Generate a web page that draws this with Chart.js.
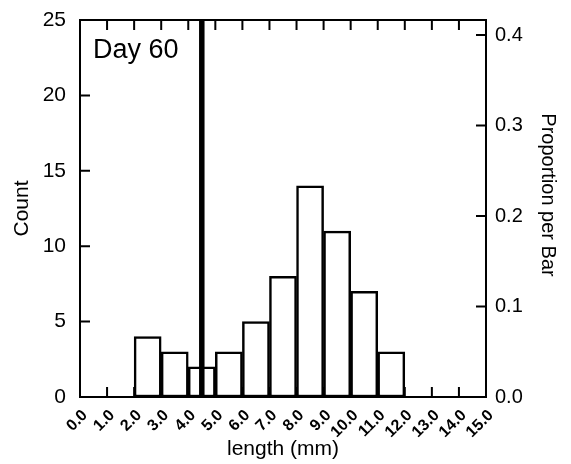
<!DOCTYPE html>
<html>
<head>
<meta charset="utf-8">
<script src="https://cdn.jsdelivr.net/npm/chart.js@4/dist/chart.umd.min.js"></script>
<style>
  html, body { margin: 0; padding: 0; background: #fff; }
  #wrap { width: 571px; height: 464px; }
</style>
</head>
<body>
<div id="wrap"><canvas id="c" width="571" height="464"></canvas></div>
<script>
// Histogram of lengths on day 60, 1 mm bins
const binStarts = [2, 3, 4, 5, 6, 7, 8, 9, 10, 11];
const counts    = [4, 3, 2, 3, 5, 8, 14, 11, 7, 3];
const markerLength = 4.5;           // vertical reference line (mm)
const panelLabel = 'Day 60';
const rightTitle = 'Proportion per Bar';
const countTicks = [0, 5, 10, 15, 20, 25];
const proportionTicks = [0.0, 0.1, 0.2, 0.3, 0.4];

const total = counts.reduce((s, v) => s + v, 0);
const countMax = 25;

const barData = binStarts.map((b, i) => ({ x: b + 0.5, y: counts[i] }));

const FONT = '"Liberation Sans", Arial, Helvetica, sans-serif';
Chart.defaults.font.family = FONT;
Chart.defaults.color = '#000';

// Frame around the plot with ticks pointing inward, plus the panel label
// and the right-hand axis title
const framePlugin = {
  id: 'frame',
  afterDatasetsDraw(chart) {
    const { ctx, chartArea: a, scales } = chart;
    const { x, y, y2 } = scales;
    const tl = 10;
    ctx.save();
    ctx.strokeStyle = '#000';
    ctx.lineWidth = 2;
    ctx.strokeRect(a.left, a.top, a.right - a.left, a.bottom - a.top);
    ctx.beginPath();
    for (let v = x.min; v <= x.max; v += 1) {
      const px = x.getPixelForValue(v);
      ctx.moveTo(px, a.bottom); ctx.lineTo(px, a.bottom - tl);
      ctx.moveTo(px, a.top);    ctx.lineTo(px, a.top + tl);
    }
    countTicks.forEach(v => {
      const py = y.getPixelForValue(v);
      ctx.moveTo(a.left, py); ctx.lineTo(a.left + tl, py);
    });
    proportionTicks.forEach(v => {
      const py = y2.getPixelForValue(v);
      ctx.moveTo(a.right, py); ctx.lineTo(a.right - tl, py);
    });
    ctx.stroke();

    ctx.fillStyle = '#000';
    ctx.font = '27px ' + FONT;
    ctx.textAlign = 'left';
    ctx.textBaseline = 'alphabetic';
    ctx.fillText(panelLabel, a.left + 13, a.top + 38);

    ctx.translate(a.right + 62, a.top + 175);
    ctx.rotate(Math.PI / 2);
    ctx.font = '20px ' + FONT;
    ctx.textAlign = 'center';
    ctx.textBaseline = 'middle';
    ctx.fillText(rightTitle, 0, 0);
    ctx.restore();
  }
};

new Chart(document.getElementById('c'), {
  type: 'bar',
  data: {
    datasets: [
      {
        type: 'bar',
        data: barData,
        backgroundColor: '#fff',
        borderColor: '#000',
        borderWidth: 2.5,
        borderSkipped: false,
        barPercentage: 1,
        categoryPercentage: 1,
        yAxisID: 'y',
        order: 2
      },
      {
        type: 'line',
        data: [{ x: markerLength, y: 0 }, { x: markerLength, y: countMax }],
        borderColor: '#000',
        borderWidth: 5.5,
        pointRadius: 0,
        yAxisID: 'y',
        order: 1
      }
    ]
  },
  plugins: [framePlugin],
  options: {
    responsive: false,
    animation: false,
    events: [],
    layout: { padding: { top: 20, left: 0, right: 0, bottom: 0 } },
    plugins: { legend: { display: false }, tooltip: { enabled: false } },
    scales: {
      x: {
        type: 'linear',
        offset: false,
        min: 0,
        max: 15,
        grid: { display: false },
        border: { display: false },
        ticks: {
          stepSize: 1,
          autoSkip: false,
          minRotation: 45,
          maxRotation: 45,
          padding: 1,
          labelOffset: 5,
          font: { size: 16, weight: 'bold' },
          callback: v => Number(v).toFixed(1)
        },
        title: { display: true, text: 'length (mm)', font: { size: 21 }, padding: { top: 0, bottom: 2 } },
        afterFit: s => { s.height = 67; }
      },
      y: {
        position: 'left',
        min: 0,
        max: countMax,
        grid: { display: false },
        border: { display: false },
        ticks: { stepSize: 5, padding: 6, font: { size: 21 } },
        title: { display: true, text: 'Count', font: { size: 21 }, padding: { top: 10, bottom: 4 } },
        afterFit: s => { s.width = 80; }
      },
      y2: {
        position: 'right',
        min: 0,
        max: countMax / total,
        grid: { display: false },
        border: { display: false },
        ticks: {
          stepSize: 0.1,
          includeBounds: false,
          padding: 1,
          font: { size: 20 },
          callback: v => Number(v).toFixed(1)
        },
        title: { display: false },
        afterFit: s => { s.width = 85; }
      }
    }
  }
});
</script>
</body>
</html>
